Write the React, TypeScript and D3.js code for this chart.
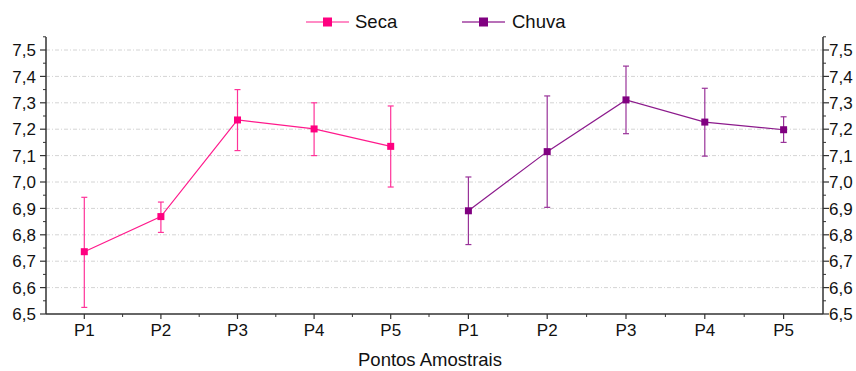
import React from "react";
import * as d3 from "d3";

const categories = ["P1", "P2", "P3", "P4", "P5"];
const secaMean = [6.736, 6.869, 7.235, 7.201, 7.135];
const secaUpper = [6.942, 6.924, 7.35, 7.3, 7.288];
const secaLower = [6.525, 6.809, 7.119, 7.1, 6.981];
const chuvaMean = [6.891, 7.115, 7.311, 7.227, 7.198];
const chuvaUpper = [7.019, 7.326, 7.439, 7.355, 7.247];
const chuvaLower = [6.763, 6.904, 7.183, 7.098, 7.15];
const yTicks = [6.5, 6.6, 6.7, 6.8, 6.9, 7.0, 7.1, 7.2, 7.3, 7.4, 7.5];
const seriesNames = ["Seca", "Chuva"];

const W = 856;
const H = 371;
const left = 46;
const mid = 429;
const right = 823;
const top = 37;
const bottom = 314;

const FONT = "'Liberation Sans', Arial, sans-serif";

export default function App() {
  const y = d3.scaleLinear().domain([6.5, 7.5]).range([bottom, 50]);
  const yTop = y.invert(top);
  const xL = d3.scaleLinear().domain([0.5, 5.5]).range([left, mid]);
  const xR = d3.scaleLinear().domain([0.5, 5.5]).range([mid, right]);
  const minorY = d3.range(6.55, yTop + 0.001, 0.1);

  const groups = [
    { x: xL, mean: secaMean, up: secaUpper, lo: secaLower, color: "#FF0080", line: "#FF1A8C", err: "#FF3399" },
    { x: xR, mean: chuvaMean, up: chuvaUpper, lo: chuvaLower, color: "#800080", line: "#8C1A8C", err: "#993399" },
  ];

  const fmt = (v: number) => v.toFixed(1).replace(".", ",");

  return (
    <svg width={W} height={H} style={{ position: "absolute", left: 0, top: 0, background: "#fff" }} fontFamily={FONT}>
      {/* grid */}
      {yTicks.slice(1).map((t) => (
        <line key={"g" + t} x1={left} x2={right} y1={y(t)} y2={y(t)} stroke="#d4d4d4" strokeWidth={1} strokeDasharray="4,2,1,2" />
      ))}
      {/* axes */}
      <line x1={left} x2={left} y1={top} y2={bottom} stroke="#333" strokeWidth={1.5} />
      <line x1={right} x2={right} y1={top} y2={bottom} stroke="#333" strokeWidth={1.5} />
      {yTicks.map((t) => (
        <g key={"yt" + t}>
          <line x1={left - 6} x2={left} y1={y(t)} y2={y(t)} stroke="#333" strokeWidth={1.2} />
          <line x1={right} x2={right + 6} y1={y(t)} y2={y(t)} stroke="#333" strokeWidth={1.2} />
          <text x={36} y={y(t)} dy="0.36em" textAnchor="end" fontSize={17} fill="#111">{fmt(t)}</text>
          <text x={829} y={y(t)} dy="0.36em" textAnchor="start" fontSize={17} fill="#111">{fmt(t)}</text>
        </g>
      ))}
      {minorY.map((t) => (
        <g key={"ym" + t}>
          <line x1={left - 3} x2={left} y1={y(t)} y2={y(t)} stroke="#333" strokeWidth={1} />
          <line x1={right} x2={right + 3} y1={y(t)} y2={y(t)} stroke="#333" strokeWidth={1} />
        </g>
      ))}
      {/* x axis */}
      <line x1={left} x2={right} y1={bottom} y2={bottom} stroke="#333" strokeWidth={1.5} />
      {groups.map((g, gi) => (
        <g key={"xa" + gi}>
          {categories.map((c, i) => (
            <g key={c}>
              <line x1={g.x(i + 1)} x2={g.x(i + 1)} y1={bottom} y2={bottom + 5} stroke="#333" strokeWidth={1.2} />
              <text x={g.x(i + 1)} y={336} textAnchor="middle" fontSize={17} fill="#111">{c}</text>
            </g>
          ))}
          {d3.range(1.5, 5.5, 1).map((m) => (
            <line key={"m" + m} x1={g.x(m)} x2={g.x(m)} y1={bottom} y2={bottom + 3} stroke="#333" strokeWidth={1} />
          ))}
        </g>
      ))}
      <line x1={mid} x2={mid} y1={bottom} y2={bottom + 3} stroke="#333" strokeWidth={1} />
      <text x={430} y={366} textAnchor="middle" fontSize={18.5} fill="#111">Pontos Amostrais</text>

      {/* series */}
      {groups.map((g, gi) => {
        const pts: [number, number][] = g.mean.map((v, i) => [g.x(i + 1), y(v)]);
        const path = d3.line()(pts) || "";
        return (
          <g key={"s" + gi}>
            {g.mean.map((v, i) => {
              const cx = g.x(i + 1);
              return (
                <g key={"e" + i}>
                  <line x1={cx} x2={cx} y1={y(g.up[i])} y2={y(g.lo[i])} stroke={g.err} strokeWidth={1.2} />
                  <line x1={cx - 3} x2={cx + 3} y1={y(g.up[i])} y2={y(g.up[i])} stroke={g.err} strokeWidth={1.2} />
                  <line x1={cx - 3} x2={cx + 3} y1={y(g.lo[i])} y2={y(g.lo[i])} stroke={g.err} strokeWidth={1.2} />
                </g>
              );
            })}
            <path d={path} fill="none" stroke={g.line} strokeWidth={1.2} />
            {pts.map((p, i) => (
              <rect key={"p" + i} x={p[0] - 3.5} y={p[1] - 3.5} width={7} height={7} fill={g.color} />
            ))}
          </g>
        );
      })}

      {/* legend */}
      {[
        { x1: 306, x2: 349, tx: 355, color: "#FF0080", line: "#FF66B2" },
        { x1: 462, x2: 505, tx: 512, color: "#800080", line: "#A040A0" },
      ].map((l, i) => (
        <g key={"l" + i}>
          <line x1={l.x1} x2={l.x2} y1={22} y2={22} stroke={l.line} strokeWidth={1.5} />
          <rect x={(l.x1 + l.x2) / 2 - 4.5} y={17.5} width={9} height={9} fill={l.color} />
          <text x={l.tx} y={28} fontSize={18.5} fill="#111">{seriesNames[i]}</text>
        </g>
      ))}
    </svg>
  );
}
